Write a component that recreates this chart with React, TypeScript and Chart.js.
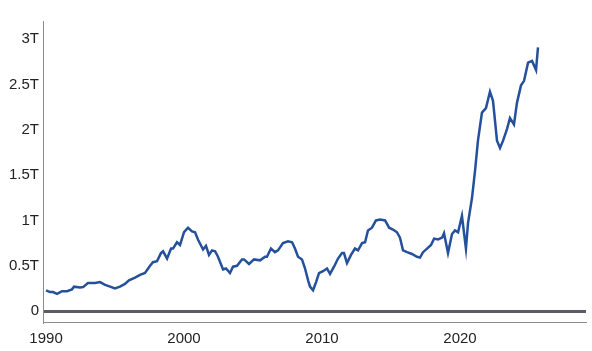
import React, { useEffect, useRef } from "react";
import { Chart, registerables } from "chart.js";

Chart.register(...registerables);

const years = [
  1990.00, 1990.29, 1990.51, 1990.80, 1991.16, 1991.52, 1991.88, 1992.03, 1992.46, 1992.68,
  1993.04, 1993.55, 1993.91, 1994.28, 1994.64, 1995.00, 1995.36, 1995.72, 1996.01, 1996.45,
  1996.81, 1997.17, 1997.54, 1997.75, 1998.04, 1998.33, 1998.48, 1998.77, 1999.06, 1999.20,
  1999.49, 1999.71, 2000.00, 2000.29, 2000.58, 2000.80, 2001.01, 2001.38, 2001.59, 2001.81,
  2002.03, 2002.25, 2002.46, 2002.83, 2003.04, 2003.33, 2003.55, 2003.84, 2004.20, 2004.35,
  2004.71, 2005.07, 2005.51, 2005.87, 2006.01, 2006.30, 2006.59, 2006.81, 2007.17, 2007.54,
  2007.83, 2008.04, 2008.26, 2008.55, 2008.77, 2008.99, 2009.13, 2009.35, 2009.57, 2009.78,
  2010.07, 2010.36, 2010.58, 2010.87, 2011.16, 2011.45, 2011.59, 2011.81, 2012.10, 2012.39,
  2012.61, 2012.90, 2013.12, 2013.33, 2013.62, 2013.91, 2014.20, 2014.57, 2014.86, 2015.14,
  2015.43, 2015.65, 2015.87, 2016.16, 2016.52, 2016.88, 2017.10, 2017.32, 2017.61, 2017.90,
  2018.12, 2018.41, 2018.70, 2018.84, 2019.13, 2019.42, 2019.64, 2019.86, 2020.14, 2020.43,
  2020.58, 2020.87, 2021.09, 2021.30, 2021.59, 2021.88, 2022.17, 2022.39, 2022.68, 2022.90,
  2023.12, 2023.41, 2023.62, 2023.91, 2024.13, 2024.42, 2024.64, 2024.93, 2025.22, 2025.51,
  2025.65,
];

// values in trillions
const values = [
  0.23, 0.21, 0.21, 0.19, 0.22, 0.22, 0.24, 0.27, 0.26, 0.265,
  0.31, 0.31, 0.32, 0.29, 0.27, 0.25, 0.27, 0.30, 0.34, 0.37,
  0.40, 0.42, 0.50, 0.54, 0.55, 0.64, 0.66, 0.58, 0.69, 0.69,
  0.76, 0.73, 0.87, 0.92, 0.88, 0.87, 0.79, 0.68, 0.72, 0.62,
  0.67, 0.66, 0.60, 0.46, 0.47, 0.42, 0.49, 0.50, 0.57, 0.57,
  0.52, 0.57, 0.56, 0.60, 0.60, 0.69, 0.65, 0.67, 0.75, 0.77,
  0.76, 0.69, 0.60, 0.57, 0.47, 0.34, 0.27, 0.23, 0.32, 0.42,
  0.44, 0.47, 0.41, 0.49, 0.58, 0.64, 0.64, 0.53, 0.62, 0.69,
  0.67, 0.75, 0.76, 0.89, 0.92, 1.00, 1.01, 1.00, 0.92, 0.90,
  0.87, 0.81, 0.67, 0.65, 0.63, 0.60, 0.59, 0.65, 0.69, 0.73,
  0.80, 0.79, 0.81, 0.86, 0.64, 0.85, 0.89, 0.87, 1.05, 0.69,
  0.97, 1.25, 1.55, 1.88, 2.19, 2.24, 2.42, 2.32, 1.88, 1.80,
  1.88, 2.01, 2.13, 2.06, 2.30, 2.49, 2.54, 2.74, 2.76, 2.66,
  2.91,
];

const xTicks = [1990, 2000, 2010, 2020];
const yTicks = [0, 0.5, 1, 1.5, 2, 2.5, 3];
const yTickLabels = ["0", "0.5T", "1T", "1.5T", "2T", "2.5T", "3T"];

export default function App() {
  const ref = useRef<HTMLCanvasElement | null>(null);

  useEffect(() => {
    if (!ref.current) return;
    const font = { family: "'Liberation Sans', Arial, sans-serif", size: 15 };
    const chart = new Chart(ref.current, {
      type: "line",
      data: {
        datasets: [
          {
            data: years.map((x, i) => ({ x, y: values[i] })),
            borderColor: "#25509c",
            borderWidth: 2.5,
            pointRadius: 0,
            tension: 0,
            fill: false,
          },
        ],
      },
      options: {
        animation: false,
        responsive: false,
        maintainAspectRatio: false,
        layout: { padding: { top: 21, right: 6, left: 0, bottom: 0 } },
        plugins: { legend: { display: false }, tooltip: { enabled: false } },
        scales: {
          x: {
            type: "linear",
            min: 1989.78,
            max: 2029.13,
            afterBuildTicks: (scale: any) => {
              scale.ticks = xTicks.map((v) => ({ value: v }));
            },
            afterFit: (scale: any) => {
              scale.height = 29;
            },
            ticks: {
              autoSkip: false,
              maxRotation: 0,
              padding: 8,
              color: "#222",
              font,
              callback: (v: any) => String(v),
            },
            grid: { display: false, drawTicks: false },
            border: { display: true, color: "#8c8c8c", width: 1 },
          },
          y: {
            type: "linear",
            min: -0.12,
            max: 3.2,
            afterBuildTicks: (scale: any) => {
              scale.ticks = yTicks.map((v) => ({ value: v }));
            },
            afterFit: (scale: any) => {
              scale.width = 43;
            },
            ticks: {
              autoSkip: false,
              padding: 4,
              color: "#222",
              font,
              callback: (v: any) => {
                const idx = yTicks.indexOf(Number(v));
                return idx >= 0 ? yTickLabels[idx] : "";
              },
            },
            grid: {
              drawTicks: false,
              color: (ctx: any) => (ctx.tick && ctx.tick.value === 0 ? "#5c5c66" : "rgba(0,0,0,0)"),
              lineWidth: (ctx: any) => (ctx.tick && ctx.tick.value === 0 ? 3 : 0),
            },
            border: { display: true, color: "#8c8c8c", width: 1 },
          },
        },
      },
    });
    return () => chart.destroy();
  }, []);

  return (
    <div style={{ position: "absolute", left: 0, top: 0, width: 592, height: 351, background: "#fff" }}>
      <canvas ref={ref} width={592} height={351} style={{ width: 592, height: 351 }} />
    </div>
  );
}
